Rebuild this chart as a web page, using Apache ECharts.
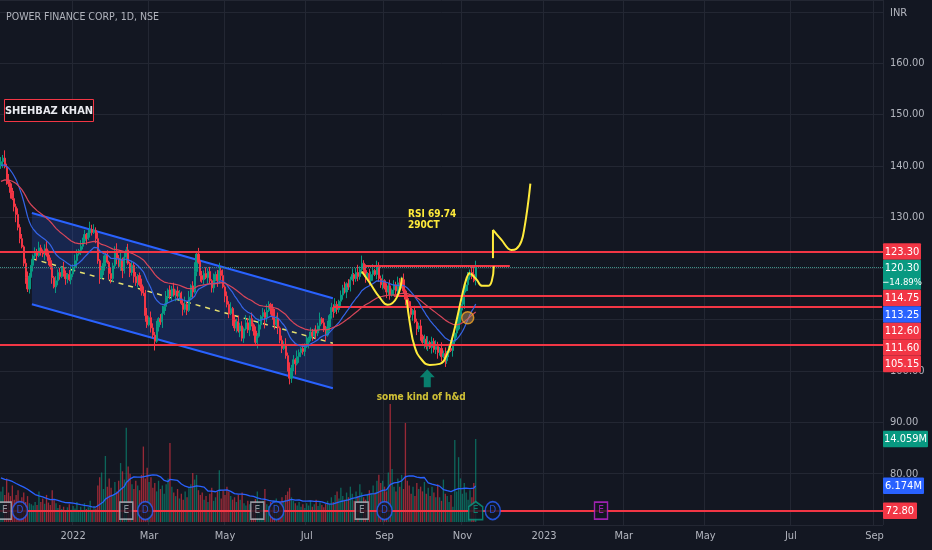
<!DOCTYPE html>
<html>
<head>
<meta charset="utf-8">
<script src="https://cdn.jsdelivr.net/npm/echarts@6/dist/echarts.min.js"></script>
<style>
  html, body { margin: 0; padding: 0; background: #131722; }
  #chart { width: 932px; height: 550px; }
</style>
</head>
<body>
<div id="chart"></div>
<script>
// ---- data ----
// NSE trading days shown: weekdays, minus exchange holidays in the past part
const firstDay = '2021-11-09';
const lastDay = '2023-09-07';
const holidays = ['2021-11-19', '2022-01-26', '2022-03-01', '2022-03-18', '2022-04-14', '2022-04-15',
  '2022-05-03', '2022-08-09', '2022-08-15', '2022-08-31', '2022-10-05', '2022-10-26', '2022-11-08'];

// daily closes, 9 Nov 2021 .. 11 Nov 2022
const firstOpen = 140.0;
const closes = [
  140.8, 141.5, 139.8, 137.2, 136.5, 134.8, 133.6, 132.0, 130.5, 128.0,
  125.8, 124.2, 121.0, 118.2, 116.0, 118.5, 120.6, 122.4, 123.2, 122.5,
  124.0, 123.4, 122.8, 123.8, 122.6, 121.5, 120.4, 118.2, 116.4, 117.6,
  119.2, 118.4, 120.1, 119.0, 118.0, 118.8, 117.8, 118.9, 120.2, 121.5,
  122.8, 123.5, 124.3, 125.4, 126.6, 125.8, 126.9, 127.6, 127.0, 127.4,
  125.8, 121.5, 118.2, 119.6, 121.0, 122.6, 121.2, 119.0, 118.0, 120.5,
  123.4, 122.0, 120.4, 121.8, 119.6, 122.2, 123.6, 121.0, 119.2, 120.6,
  118.4, 117.2, 118.6, 116.8, 115.6, 115.2, 110.8, 109.0, 110.4, 108.4,
  107.0, 105.8, 108.6, 110.2, 109.6, 111.2, 112.6, 114.4, 115.8, 114.6,
  116.0, 114.8, 115.6, 114.6, 115.2, 113.2, 112.0, 113.0, 111.8, 114.4,
  116.6, 115.4, 119.4, 122.8, 121.2, 118.6, 117.8, 119.0, 118.2, 119.4,
  117.6, 116.2, 117.8, 118.8, 117.6, 119.6, 118.6, 116.4, 114.6, 113.0,
  111.2, 112.2, 110.0, 108.4, 109.6, 107.8, 108.8, 106.4, 108.2, 109.4,
  108.0, 110.2, 109.0, 107.8, 105.6, 106.8, 109.0, 110.6, 111.4, 110.4,
  111.8, 113.0, 112.2, 110.6, 109.0, 110.2, 108.4, 106.0, 104.4, 105.2,
  103.0, 100.2, 98.6, 100.6, 102.2, 101.4, 102.8, 103.6, 104.4, 103.8,
  104.8, 105.6, 106.4, 107.6, 106.8, 108.0, 107.4, 108.8, 110.2, 109.4,
  108.2, 107.0, 108.6, 110.8, 112.4, 111.6, 113.0, 112.0, 113.6, 114.8,
  116.2, 115.4, 117.0, 116.4, 117.8, 118.8, 118.0, 119.2, 118.4, 119.8,
  121.0, 119.6, 118.4, 119.0, 117.6, 118.8, 119.6, 118.8, 120.6, 118.0,
  116.8, 117.6, 116.2, 115.4, 116.6, 114.8, 115.8, 116.8, 115.6, 117.2,
  116.4, 117.8, 115.6, 114.0, 113.6, 112.4, 111.0, 111.8, 109.6, 108.2,
  108.8, 106.8, 105.6, 106.2, 104.8, 105.6, 104.6, 105.8, 104.2, 104.8,
  103.6, 104.4, 102.8, 103.4, 102.0, 103.6, 104.4, 104.0, 105.8, 107.4,
  108.2, 110.6, 112.4, 113.0, 115.6, 116.8, 118.4, 119.2, 118.8, 117.6,
  120.3
];
// wick lengths beyond the body, one digit per bar, in steps of wickStep
const wickStep = 0.3;
const upWicks =
  '3252413524' + '2313424132' + '4213532413' + '2314213524' + '3142312534' +
  '2413523142' + '3524132413' + '2312432514' + '3241352413' + '2413213524' +
  '1362413242' + '3142352413' + '2413242315' + '3241324132' + '4213524132' +
  '4252314213' + '2413213241' + '3241324213' + '2413241352' + '5241324132' +
  '2413241324' + '3241324132' + '2413241324' + '3142413241' + '2314213245' + '4';
const downWicks =
  '2413241352' + '3124231423' + '1324132414' + '3212431322' + '4132241321' +
  '3241321432' + '2413524132' + '4231324213' + '2613241342' + '3142314231' +
  '2413142314' + '2331423142' + '3142314231' + '2413241327' + '3142314231' +
  '2143271432' + '3142314231' + '2413241323' + '3142314232' + '3241324132' +
  '2314231423' + '3124132414' + '2314231423' + '4231423142' + '3142314231' + '3';

// volume, millions
const volumes = [
  5.2, 6.0, 4.6, 7.4, 5.0, 4.4, 6.2, 3.8, 4.6, 5.4,
  3.6, 4.2, 5.0, 3.4, 4.4, 3.2, 3.0, 2.8, 3.4, 2.9,
  5.2, 3.4, 4.0, 3.1, 4.6, 3.3, 2.9, 5.4, 3.7, 3.2,
  2.4, 2.9, 2.2, 2.6, 2.0, 2.5, 3.0, 2.1, 2.7, 2.3,
  3.4, 2.0, 2.6, 1.9, 3.2, 2.2, 2.5, 3.6, 2.1, 2.7,
  2.3, 6.2, 7.6, 8.4, 5.6, 11.2, 6.0, 7.4, 5.8, 4.6,
  6.8, 5.2, 7.0, 10.0, 8.6, 7.2, 16.0, 9.4, 8.2, 6.4,
  5.6, 7.0, 6.2, 5.4, 8.0, 12.8, 7.4, 9.2, 6.8, 7.6,
  5.8, 6.6, 5.2, 7.0, 5.6, 6.2, 4.8, 6.4, 7.4, 13.4,
  6.0, 5.0, 4.4, 5.6, 4.0, 4.8, 3.8, 5.2, 4.2, 5.8,
  6.4, 8.3, 7.2, 8.0, 5.4, 4.6, 5.0, 3.8, 4.4, 3.4,
  4.8, 5.8, 3.6, 4.2, 5.2, 8.8, 4.0, 5.4, 4.6, 6.0,
  5.2, 4.4, 3.8, 4.2, 3.4, 4.6, 3.8, 5.0, 3.2, 2.8,
  3.6, 3.0, 2.6, 3.4, 3.9, 5.2, 3.2, 2.8, 3.6, 5.6,
  3.0, 2.7, 3.4, 2.5, 3.1, 4.0, 2.8, 3.5, 4.2, 3.6,
  4.6, 5.2, 5.8, 4.2, 3.6, 3.2, 2.8, 3.4, 2.6, 3.0,
  2.4, 3.2, 2.8, 3.6, 2.6, 3.0, 3.8, 2.7, 3.3, 2.9,
  2.5, 3.1, 3.6, 3.0, 4.2, 3.4, 4.6, 5.2, 4.0, 5.8,
  4.4, 3.8, 5.0, 4.2, 6.0, 4.8, 3.6, 5.2, 4.4, 6.4,
  5.0, 4.2, 3.8, 4.6, 5.4, 4.8, 6.2, 5.0, 7.0, 8.0,
  6.6, 7.0, 6.0, 5.2, 8.4, 20.0, 9.0, 6.0, 5.2, 7.4,
  6.0, 8.0, 5.6, 16.8, 7.0, 6.2, 4.8, 6.0, 4.4, 6.6,
  5.6, 6.0, 5.2, 6.8, 4.8, 5.8, 4.4, 6.0, 5.0, 4.2,
  6.4, 4.2, 3.6, 7.2, 4.8, 4.4, 3.4, 4.6, 2.6, 13.9,
  5.2, 11.0, 7.4, 4.8, 6.6, 5.0, 3.8, 5.4, 4.2, 6.6,
  14.059
];
const volMaSeed = 7.6;      // volume average carried in from before the first bar
const emaFastSeed = 140.0;  // blue average at the first bar
const emaSlowSeed = 136.8;  // red average at the first bar

// horizontal levels
const fullLevels = [123.3, 105.15, 72.8];
const partLevels = [[207, 114.75], [175, 112.6], [191, 120.6]]; // [start bar, price], runs to the right, last one is short
const partLevelEnds = [null, null, 268];
const lastPrice = 120.3;

// parallel channel: bar index, upper and lower prices at both ends
const channelBars = [16.3, 174.8];
const channelUpper = [130.8, 114.2];
const channelLower = [113.0, 96.65];

// hand drawn yellow strokes, [bar index, price]
const strokeLeft = [[190, 119.4], [194.2, 117.2], [199.5, 114.3], [203.7, 112.9], [208.4, 114.3], [211.1, 118.2]];
const strokeHead = [[213.7, 113.9], [215.3, 109.4], [217.9, 104.7], [221.6, 102.2], [225.8, 101.2], [231.1, 101.4],
  [234.8, 103.2], [237.4, 106.1], [240, 110.0], [242.7, 114.5], [245.3, 118.2], [246.9, 119.2]];
const strokeRight = [[247.5, 119.0], [250.5, 117.8], [253.5, 116.6], [256.5, 116.6], [258.5, 117.6], [259.5, 120.4]];
const strokeUp = [[259.1, 122.0], [259.1, 127.5]];
const strokeNext = [[259.1, 127.5], [263.5, 125.6], [268.8, 123.6], [271.4, 123.8], [274.1, 125.3],
  [275.8, 128.2], [277.6, 132.7], [278.8, 136.5]];
const arrowAt = [224.5, 98.6];
const circleAt = [245.8, 110.4];

// earnings (E) and dividend (D) flags on the bottom line, bar index
const earnBars = [2, 66, 135, 190];
const divBars = [10, 76, 145, 202, 259];
const nextEarnBar = 250;
const futureEarnBar = 316;

const priceTags = [
  { v: 123.3, t: ['123.30'], c: '#f23645' },
  { v: 120.3, t: ['120.30', '\u221214.89%'], c: '#089981' },
  { v: 114.75, t: ['114.75'], c: '#f23645' },
  { v: 113.25, t: ['113.25'], c: '#2962ff' },
  { v: 112.6, t: ['112.60'], c: '#f23645' },
  { v: 111.6, t: ['111.60'], c: '#f23645' },
  { v: 105.15, t: ['105.15'], c: '#f23645' }
];
const volTags = [
  { v: 14.059, t: '14.059M', c: '#089981', w: 45 },
  { v: 6.174, t: '6.174M', c: '#2962ff', w: 41 }
];

// ---- build ----
const categories = [];
for (let d = new Date(firstDay + 'T00:00:00Z'); d <= new Date(lastDay + 'T00:00:00Z'); d.setUTCDate(d.getUTCDate() + 1)) {
  const s = d.toISOString().slice(0, 10);
  const wd = d.getUTCDay();
  if (wd === 0 || wd === 6 || holidays.includes(s)) continue;
  categories.push(s);
}
const N = categories.length;
const monthNames = ['Jan', 'Feb', 'Mar', 'Apr', 'May', 'Jun', 'Jul', 'Aug', 'Sep', 'Oct', 'Nov', 'Dec'];
function isMarkBar(index) {
  if (index === 0) return false;
  const m = categories[index].slice(5, 7);
  return m !== categories[index - 1].slice(5, 7) && (+m) % 2 === 1;
}

const candles = closes.map((c, i) => {
  const o = i === 0 ? firstOpen : closes[i - 1];
  const hi = Math.max(o, c) + wickStep * +(upWicks[i] || 0);
  const lo = Math.min(o, c) - wickStep * +(downWicks[i] || 0);
  return [o, c, +lo.toFixed(2), +hi.toFixed(2)];
});

function ema(src, period, seed) {
  const k = 2 / (period + 1);
  let e = seed;
  return src.map(v => +(e = e + k * (v - e)).toFixed(2));
}
function sma(src, n, seed) {
  return src.map((_, i) => {
    let s = 0;
    for (let j = i - n + 1; j <= i; j++) s += j < 0 ? seed : src[j];
    return +(s / n).toFixed(3);
  });
}

const red = '#f23645', green = '#089981', blue = '#2962ff', yellow = '#ffeb3b';
const FONT = '"DejaVu Sans Condensed", "Liberation Sans", Roboto, sans-serif';

const chart = echarts.init(document.getElementById('chart'));

function stroke(data, smooth) {
  return {
    type: 'line', xAxisIndex: 1, data: data, smooth: smooth, symbol: 'none', z: 6,
    lineStyle: { color: yellow, width: 2 }, silent: true
  };
}
function flag(bars, symbol, size, border, label) {
  return {
    type: 'scatter', xAxisIndex: 1, z: 7, symbol: symbol, symbolSize: size,
    data: bars.map(b => [b, fullLevels[2]]),
    itemStyle: { color: '#131722', borderColor: border, borderWidth: 1.6 },
    label: { show: true, position: 'inside', formatter: label, color: border, fontSize: 10, fontFamily: FONT }
  };
}

const markLines = fullLevels.map(v => ({ yAxis: v }))
  .concat(partLevels.map((p, k) => [{ coord: [p[0], p[1]] }, { coord: [partLevelEnds[k] || N - 1, p[1]] }]));

const option = {
  backgroundColor: '#131722',
  animation: false,
  grid: { left: 0, right: 49, top: 0, bottom: 25 },
  xAxis: [{
    type: 'category', data: categories, boundaryGap: true,
    axisLine: { show: false }, axisTick: { show: false },
    axisLabel: {
      interval: isMarkBar, margin: 6, color: '#b2b5be', fontSize: 11, fontFamily: FONT,
      formatter: v => v.slice(5, 7) === '01' ? v.slice(0, 4) : monthNames[+v.slice(5, 7) - 1]
    },
    splitLine: { show: true, interval: isMarkBar, lineStyle: { color: '#232733', width: 1 } }
  }, {
    type: 'value', min: -0.5, max: N - 0.5, show: false
  }],
  yAxis: [{
    type: 'value', position: 'right', min: 70, max: 172.3, interval: 10,
    axisLine: { show: false }, axisTick: { show: false },
    axisLabel: {
      margin: 7, color: '#b2b5be', fontSize: 11, fontFamily: FONT,
      formatter: v => (v % 10 === 0 && ![70, 110, 120, 170].includes(v)) ? v.toFixed(2) : ''
    },
    splitLine: { lineStyle: { color: '#232733', width: 1 } }
  }, {
    type: 'value', min: -0.5, max: 88.5, show: false, splitLine: { show: false }
  }],
  series: [
    {
      type: 'custom', xAxisIndex: 1, silent: true, z: 1,
      data: [[channelBars[0], channelUpper[0]]],
      renderItem: (params, api) => ({
        type: 'polygon',
        shape: { points: [
          api.coord([channelBars[0], channelUpper[0]]), api.coord([channelBars[1], channelUpper[1]]),
          api.coord([channelBars[1], channelLower[1]]), api.coord([channelBars[0], channelLower[0]])
        ] },
        style: { fill: 'rgba(41,98,255,0.2)' }
      })
    },
    {
      type: 'bar', yAxisIndex: 1, barCategoryGap: '30%', z: 1, silent: true,
      data: volumes.map((v, i) => ({
        value: v,
        itemStyle: { color: candles[i][1] >= candles[i][0] ? 'rgba(8,153,129,0.6)' : 'rgba(242,54,69,0.6)' }
      }))
    },
    {
      type: 'line', yAxisIndex: 1, data: sma(volumes, 20, volMaSeed), symbol: 'none', z: 3,
      lineStyle: { color: blue, width: 1.3 }, silent: true
    },
    {
      type: 'line', xAxisIndex: 1, symbol: 'none', z: 3, silent: true,
      data: channelBars.map((b, k) => [b, channelUpper[k]]), lineStyle: { color: blue, width: 2 }
    },
    {
      type: 'line', xAxisIndex: 1, symbol: 'none', z: 3, silent: true,
      data: channelBars.map((b, k) => [b, channelLower[k]]), lineStyle: { color: blue, width: 2 }
    },
    {
      type: 'line', xAxisIndex: 1, symbol: 'none', z: 3, silent: true,
      data: channelBars.map((b, k) => [b, (channelUpper[k] + channelLower[k]) / 2]),
      lineStyle: { color: '#e6e070', width: 1.5, type: [5, 5] }
    },
    {
      type: 'candlestick', data: candles, barWidth: 1.7, z: 4,
      itemStyle: { color: green, color0: red, borderColor: green, borderColor0: red, borderWidth: 1 },
      markLine: {
        silent: true, symbol: 'none', label: { show: false }, animation: false,
        lineStyle: { color: red, width: 2, type: 'solid' },
        data: markLines.concat([{ yAxis: lastPrice, lineStyle: { color: '#3f8f87', width: 1, type: 'dotted' } }])
      }
    },
    {
      type: 'line', data: ema(closes, 20, emaFastSeed), symbol: 'none', z: 5, silent: true,
      lineStyle: { color: '#3565e8', width: 1.2 }
    },
    {
      type: 'line', data: ema(closes, 50, emaSlowSeed), symbol: 'none', z: 5, silent: true,
      lineStyle: { color: '#d8465a', width: 1.2 }
    },
    stroke(strokeLeft, 0.5),
    stroke(strokeHead, 0.5),
    stroke(strokeRight, 0.5),
    stroke(strokeUp, false),
    stroke(strokeNext, 0.4),
    {
      type: 'scatter', xAxisIndex: 1, z: 7, data: [arrowAt],
      symbol: 'path://M7.5,0 L15,8 L11,8 L11,18 L4,18 L4,8 L0,8 Z', symbolSize: [15, 18],
      itemStyle: { color: green },
      label: {
        show: true, position: 'bottom', distance: 5, offset: [-6, 0], formatter: 'some kind of h&d',
        color: yellow, fontSize: 10, fontFamily: FONT, fontWeight: 'bold'
      }
    },
    {
      type: 'scatter', xAxisIndex: 1, z: 7, data: [circleAt], symbol: 'circle', symbolSize: 12,
      itemStyle: { color: 'rgba(190,140,95,0.6)', borderColor: '#f5a623', borderWidth: 1.5 }
    },
    flag(earnBars, 'rect', [13, 17], '#b2b5be', 'E'),
    flag(divBars, 'circle', [15, 18], blue, 'D'),
    flag([nextEarnBar], 'path://M5,0 L10,4 L10,14 L0,14 L0,4 Z', [14, 18], green, 'E'),
    flag([futureEarnBar], 'rect', [13, 17], '#c026d3', 'E')
  ]
};
chart.setOption(option);

// ---- text and right scale tags ----
function textEl(x, y, text, fill, size, align, weight) {
  return {
    type: 'text', x: x, y: y, z: 101,
    style: {
      text: text, fill: fill, font: (weight || 'normal') + ' ' + size + 'px ' + FONT,
      align: align, textAlign: align, verticalAlign: 'middle', textVerticalAlign: 'middle'
    }
  };
}
function tagEls(top, h, w, color, lines) {
  const els = [{ type: 'rect', z: 100, shape: { x: 883, y: top, width: w, height: h, r: 1 }, style: { fill: color } }];
  lines.forEach((t, k) => els.push(textEl(883 + w / 2, top + 8.5 + k * 14, t, '#ffffff', k ? 9.5 : 11, 'center')));
  return els;
}

let graphic = [
  textEl(6, 17, 'POWER FINANCE CORP, 1D, NSE', '#b2b5be', 10.5, 'left'),
  textEl(890, 13, 'INR', '#b2b5be', 11, 'left'),
  { type: 'rect', z: 100, shape: { x: 4.5, y: 99.5, width: 89, height: 22 }, style: { fill: '#0c0e14', stroke: red, lineWidth: 1 } },
  textEl(49, 111, 'SHEHBAZ KHAN', '#e8e9ee', 11, 'center', 'bold'),
  textEl(408, 214, 'RSI 69.74', yellow, 10, 'left', 'bold'),
  textEl(408, 225.5, '290CT', yellow, 10, 'left', 'bold')
];

let prevBottom = -Infinity;
priceTags.forEach(tg => {
  const y = chart.convertToPixel({ yAxisIndex: 0 }, tg.v);
  const h = tg.t.length > 1 ? 30 : 16.5;
  const top = Math.max(y - 8.25, prevBottom);
  prevBottom = top + h;
  graphic = graphic.concat(tagEls(top, h, 38, tg.c, tg.t));
});
volTags.forEach(tg => {
  const y = chart.convertToPixel({ yAxisIndex: 1 }, tg.v);
  graphic = graphic.concat(tagEls(y - 8.25, 16.5, tg.w, tg.c, [tg.t]));
});
const bottomY = chart.convertToPixel({ yAxisIndex: 0 }, fullLevels[2]);
graphic = graphic.concat(tagEls(bottomY - 8.25, 16.5, 34, red, [fullLevels[2].toFixed(2)]));

chart.setOption({ graphic: graphic });
</script>
</body>
</html>
